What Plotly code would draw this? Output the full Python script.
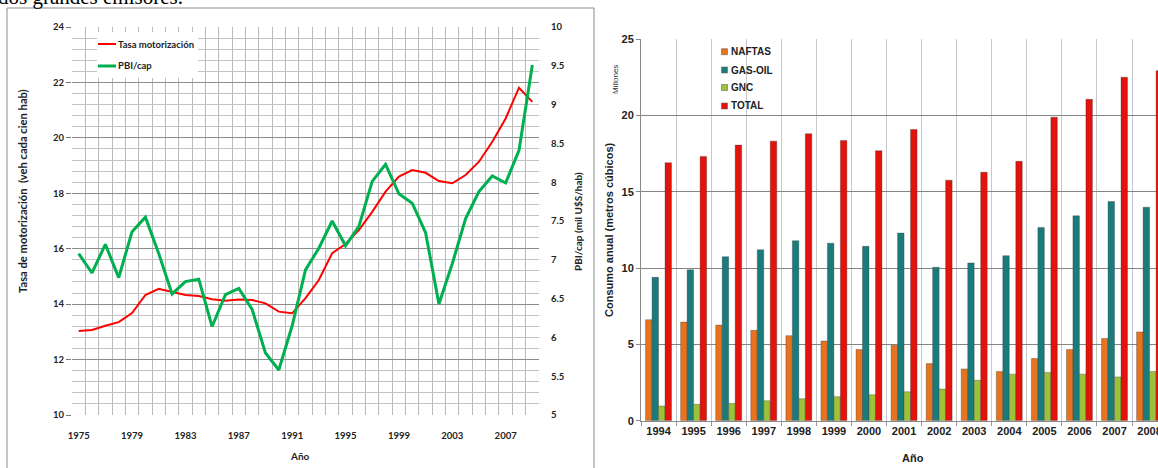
import plotly.graph_objects as go

W, H = 1158, 468

# ---------------- data: left chart ----------------
years = list(range(1975, 2010))
tasa_motorizacion = [13.03, 13.07, 13.22, 13.35, 13.68, 14.33, 14.55, 14.45, 14.33, 14.29,
                     14.18, 14.12, 14.17, 14.15, 14.03, 13.73, 13.67, 14.22, 14.87, 15.84,
                     16.17, 16.67, 17.33, 18.06, 18.60, 18.84, 18.74, 18.44, 18.36, 18.66,
                     19.14, 19.86, 20.70, 21.81, 21.30]
pbi_cap = [7.08, 6.83, 7.20, 6.77, 7.36, 7.55, 7.08, 6.56, 6.72, 6.75,
           6.14, 6.55, 6.63, 6.36, 5.80, 5.58, 6.15, 6.87, 7.15, 7.50,
           7.18, 7.43, 8.01, 8.23, 7.85, 7.73, 7.35, 6.43, 6.95, 7.53,
           7.88, 8.08, 7.99, 8.41, 9.51]
left_tick_years = [1975, 1979, 1983, 1987, 1991, 1995, 1999, 2003, 2007]

# ---------------- data: right chart ----------------
anios = [str(y) for y in range(1994, 2009)]
naftas = [6.61, 6.46, 6.26, 5.92, 5.57, 5.22, 4.66, 4.94, 3.74, 3.39, 3.22, 4.07, 4.66, 5.39, 5.81]
gas_oil = [9.39, 9.88, 10.74, 11.20, 11.79, 11.63, 11.42, 12.29, 10.05, 10.33, 10.81, 12.66, 13.42, 14.35, 13.98]
gnc = [0.96, 1.07, 1.13, 1.31, 1.44, 1.57, 1.70, 1.89, 2.07, 2.65, 3.05, 3.16, 3.05, 2.87, 3.22]
total = [16.90, 17.31, 18.05, 18.31, 18.79, 18.36, 17.68, 19.08, 15.75, 16.27, 16.99, 19.88, 21.05, 22.50, 22.92]

series_names = ["NAFTAS", "GAS-OIL", "GNC", "TOTAL"]
series_colors = ["#E8731F", "#1B7B7B", "#9DC23A", "#E3120B"]


def px(x):
    return x / W


def py(y):
    return 1 - y / H


LATO = "Lato"
ARIAL = "Liberation Sans"

fig = go.Figure()

fig.add_trace(go.Scatter(x=years, y=tasa_motorizacion, mode="lines", name="Tasa motorización",
                         line=dict(color="#FF0000", width=2), xaxis="x", yaxis="y", showlegend=False))
fig.add_trace(go.Scatter(x=years, y=pbi_cap, mode="lines", name="PBI/cap",
                         line=dict(color="#00B050", width=3), xaxis="x", yaxis="y2", showlegend=False))

for name, vals, col in zip(series_names, [naftas, gas_oil, gnc, total], series_colors):
    fig.add_trace(go.Bar(x=anios, y=vals, name=name, xaxis="x2", yaxis="y3", showlegend=False,
                         marker=dict(color=col, line=dict(color="rgba(50,50,50,0.55)", width=0.6))))

left_font = dict(family=LATO, size=9.5, color="#222", weight="bold")
right_font = dict(family=ARIAL, size=11, color="#222", weight="bold")

fig.update_layout(
    width=W, height=H,
    margin=dict(l=0, r=0, t=0, b=0, autoexpand=False),
    paper_bgcolor="white", plot_bgcolor="white",
    barmode="group", bargap=0.26, bargroupgap=0,
    xaxis=dict(domain=[px(72), px(539)], range=[1974.5, 2009.5], anchor="y", automargin=False,
               tickmode="array", tickvals=left_tick_years, ticktext=[str(v) for v in left_tick_years],
               showgrid=False, zeroline=False, showline=False,
               ticks="outside", ticklen=12, tickcolor="rgba(0,0,0,0)", tickfont=left_font,
               minor=dict(tickmode="linear", tick0=1974.5, dtick=1, showgrid=True,
                          gridcolor="#b9b9b9", gridwidth=1)),
    yaxis=dict(domain=[py(415), py(27)], range=[10, 24], anchor="x", automargin=False,
               tickmode="linear", tick0=10, dtick=2, showgrid=True, gridcolor="#8c8c8c", gridwidth=1,
               zeroline=False, showline=False, ticks="outside", ticklen=5, tickcolor="#777",
               tickfont=left_font,
               minor=dict(tickmode="linear", tick0=10, dtick=0.4, showgrid=True,
                          gridcolor="#c2c2c2", gridwidth=1)),
    yaxis2=dict(overlaying="y", side="right", anchor="x", range=[5, 10], automargin=False,
                tickmode="linear", tick0=5, dtick=0.5, showgrid=False, zeroline=False, showline=False,
                ticks="outside", ticklen=9, tickcolor="rgba(0,0,0,0)", tickfont=left_font),
    xaxis2=dict(domain=[px(641), 1.0], range=[-0.5, 14.24], anchor="y3", type="category",
                automargin=False,
                tickson="boundaries", showgrid=True, gridcolor="#c8c8c8", gridwidth=1,
                showline=True, linecolor="#8a8a8a", linewidth=1,
                ticks="outside", ticklen=4, tickcolor="#999", tickfont=right_font),
    yaxis3=dict(domain=[py(420.7), py(39)], range=[0, 25], anchor="x2", automargin=False,
                tickmode="linear", tick0=0, dtick=5, showgrid=True, gridcolor="#858585", gridwidth=1,
                zeroline=False, showline=True, linecolor="#8a8a8a", linewidth=1,
                ticks="outside", ticklen=4, tickcolor="#888", tickfont=right_font),
)

shapes = [
    # left chart frame
    dict(type="rect", xref="paper", yref="paper", x0=px(7), x1=px(594), y0=py(500), y1=py(8),
         line=dict(color="#8c8c8c", width=1), fillcolor="rgba(0,0,0,0)", layer="below"),
    # left legend box
    dict(type="rect", xref="paper", yref="paper", x0=px(97), x1=px(198), y0=py(78), y1=py(32),
         line=dict(width=0), fillcolor="white", layer="above"),
    dict(type="line", xref="paper", yref="paper", x0=px(98), x1=px(116), y0=py(44), y1=py(44),
         line=dict(color="#FF0000", width=2), layer="above"),
    dict(type="line", xref="paper", yref="paper", x0=px(98), x1=px(116), y0=py(66), y1=py(66),
         line=dict(color="#00B050", width=3), layer="above"),
]

legend_rows = [51.7, 70, 87.5, 106]
for name, col, yy in zip(series_names, series_colors, legend_rows):
    shapes.append(dict(type="rect", xref="paper", yref="paper",
                       x0=px(721.5), x1=px(727.5), y0=py(yy + 3), y1=py(yy - 3),
                       line=dict(color="#666", width=0.6), fillcolor=col, layer="above"))

fig.update_layout(shapes=shapes)

ann = []


def add_text(text, x, y, font, xanchor="center", yanchor="middle", angle=0):
    ann.append(dict(text=text, xref="paper", yref="paper", x=px(x), y=py(y),
                    xanchor=xanchor, yanchor=yanchor, showarrow=False, textangle=angle, font=font))


# cut-off document text at the top
add_text("dos grandes emisores.", -4, 10.5,
         dict(family="Liberation Serif", size=21, color="#000"), xanchor="left", yanchor="bottom")

# left chart texts
lf = dict(family=LATO, size=9.5, color="#222", weight="bold")
add_text("Tasa motorización", 116, 44, lf, xanchor="left")
add_text("PBI/cap", 116, 66, lf, xanchor="left")
add_text("Tasa de motorización  (veh cada cien hab)", 22, 191,
         dict(family=LATO, size=11.2, color="#222", weight="bold"), angle=-90)
add_text("PBI/cap (mil U$S/hab)", 578, 222,
         dict(family=LATO, size=10, color="#222", weight="bold"), angle=-90)
add_text("Año", 300, 456, dict(family=LATO, size=10, color="#222", weight="bold"))

# right chart texts
add_text("Millones", 615, 80, dict(family=ARIAL, size=8, color="#333"), angle=-90)
add_text("Consumo anual (metros cúbicos)", 609, 230,
         dict(family=ARIAL, size=11, color="#222", weight="bold"), angle=-90)
add_text("Año", 913, 458, dict(family=ARIAL, size=11, color="#222", weight="bold"))
for name, yy in zip(series_names, legend_rows):
    add_text(name, 729, yy, dict(family=ARIAL, size=10, color="#222", weight="bold"), xanchor="left")

fig.update_layout(annotations=ann)

fig.write_html("out.html", config={"displayModeBar": False},
               post_script="document.body.style.margin='0';document.body.style.overflow='hidden';")
